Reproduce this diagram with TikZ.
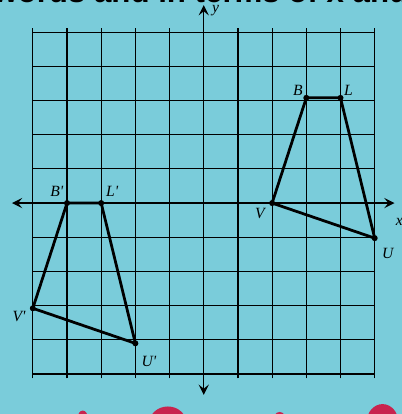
\documentclass[tikz,border=0pt]{standalone}
\usepackage{fontspec}
\newfontfamily\headfont{Liberation Sans}
\newfontfamily\labelfont{Liberation Serif}
\usetikzlibrary{positioning,arrows.meta}
\definecolor{scanblue}{RGB}{122,204,218}
\definecolor{inkred}{RGB}{200,36,78}

\begin{document}
\begin{tikzpicture}[x=1cm,y=1.026cm,>={Stealth[length=3mm,width=3mm,inset=1.2mm]},
  vtx/.style={circle,fill=black,inner sep=0pt,minimum size=5pt},
  lbl/.style={font=\labelfont\itshape\fontsize{13}{13}\selectfont,inner sep=1pt},
  side/.style={line width=2.3pt,line join=round}]
\useasboundingbox[fill=scanblue] (-5.96cm,-6.17cm) rectangle (5.79cm,5.94cm);
\node[anchor=base west,inner sep=0pt,font=\headfont\bfseries\fontsize{26}{26}\selectfont] (head) at (-6.16cm,5.87cm) {words and in terms of x and};
% bits of red print below
\fill[inkred] (-3.54cm,-6.29cm) ellipse (0.15cm and 0.22cm);
\fill[inkred] (-1.05cm,-6.45cm) ellipse (0.55cm and 0.5cm);
\fill[inkred] (2.22cm,-6.38cm) ellipse (0.2cm and 0.27cm);
\fill[inkred] (5.23cm,-6.4cm) ellipse (0.46cm and 0.52cm);
% grid and axes
\draw[line width=1pt] (-5,-5) grid (5,5);
\coordinate (xl) at (-5.61cm,0);
\coordinate (xr) at (5.58cm,0);
\coordinate (yb) at (0,-5.61cm);
\coordinate (yt) at (0,5.79cm);
\draw[<->,line width=1.2pt] (xl) -- (xr);
\draw[<->,line width=1.2pt] (yb) -- (yt);
\node[lbl] (xlab) at (5.72cm,-0.55cm) {x};
\node[lbl] (ylab) at (0.35cm,5.62cm) {y};
% BLUV
\node[vtx] (B) at (3,3) {};
\node[vtx] (L) at (4,3) {};
\node[vtx] (U) at (5,-1) {};
\node[vtx] (V) at (2,0) {};
\draw[side] (B.center) -- (L.center) -- (U.center) -- (V.center) -- cycle;
\node[lbl,above left=-1pt and 0pt of B] (Blab) {B};
\node[lbl,above right=-1pt and 0pt of L] (Llab) {L};
\node[lbl,below right=5pt and 3pt of U] (Ulab) {U};
\node[lbl,below left=1pt and 3pt of V] (Vlab) {V};
% image B'L'U'V'
\node[vtx] (B1) at (-4,0) {};
\node[vtx] (L1) at (-3,0) {};
\node[vtx] (U1) at (-2,-4) {};
\node[vtx] (V1) at (-5,-3) {};
\draw[side] (B1.center) -- (L1.center) -- (U1.center) -- (V1.center) -- cycle;
\node[lbl,above left=2pt and 0pt of B1] (B1lab) {B'};
\node[lbl,above right=2pt and 1pt of L1] (L1lab) {L'};
\node[lbl,below right=7.5pt and 2pt of U1] (U1lab) {U'};
\node[lbl,below left=-1pt and 3pt of V1] (V1lab) {V'};
\end{tikzpicture}
\end{document}
